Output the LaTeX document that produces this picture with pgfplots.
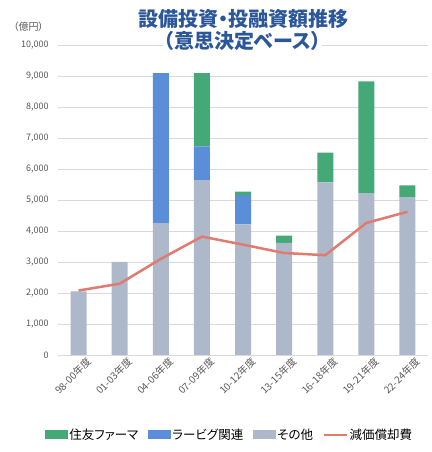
\documentclass[border=0pt]{standalone}
\usepackage{pgfplots}
\pgfplotsset{compat=1.18}
\usepackage{fontspec}
\setmainfont{Noto Sans CJK JP}
\newfontfamily\pfont{Noto Sans CJK JP}[RawFeature=+palt]
\definecolor{cgreen}{HTML}{45A877}
\definecolor{cblue}{HTML}{5B8ED8}
\definecolor{cgray}{HTML}{ADB8CA}
\definecolor{cred}{HTML}{E07B6F}
\definecolor{ctitle}{HTML}{2B579A}
\definecolor{ctext}{HTML}{595959}
\definecolor{cgrid}{HTML}{D9D9D9}
\begin{document}
\begin{tikzpicture}
\useasboundingbox (0pt,0pt) rectangle (431pt,452pt);
\begin{axis}[
  at={(78.6pt,97pt)}, anchor=origin, scale only axis,
  width=370pt, height=310pt,
  ybar stacked, bar width=16pt,
  xmin=-0.5, xmax=8.5, ymin=0, ymax=10000,
  ytick={0,1000,...,10000},
  xtick={0,...,8},
  xticklabels={98-00年度,01-03年度,04-06年度,07-09年度,10-12年度,13-15年度,16-18年度,19-21年度,22-24年度},
  xticklabel style={font=\fontsize{10}{11}\selectfont, color=ctext, rotate=45, anchor=north east, inner sep=1pt, xshift=5pt, yshift=-5pt},
  yticklabel style={font=\fontsize{9}{10}\selectfont, color=ctext, xshift=-6pt},
  /pgf/number format/assume math mode=true,
  /pgf/number format/1000 sep={,},
  scaled y ticks=false,
  ymajorgrids, grid style={color=cgrid, line width=0.8pt},
  axis line style={draw=none},
  major tick length=0pt,
  legend style={at={(-0.035,-0.258)}, anchor=west, draw=none, legend columns=4,
     font=\pfont\fontsize{12.5}{14}\selectfont, inner sep=0pt,
     nodes={inner xsep=1pt},
     /tikz/every even column/.append style={column sep=9pt}},
  legend cell align=left,
]
\addlegendimage{area legend, fill=cgreen, draw=none, legend image code/.code={\fill[cgreen] (0pt,-4.5pt) rectangle (23pt,4.5pt);}}
\addlegendentry{住友ファーマ}
\addlegendimage{area legend, fill=cblue, draw=none, legend image code/.code={\fill[cblue] (0pt,-4.5pt) rectangle (23pt,4.5pt);}}
\addlegendentry{ラービグ関連}
\addlegendimage{area legend, fill=cgray, draw=none, legend image code/.code={\fill[cgray] (0pt,-4.5pt) rectangle (23pt,4.5pt);}}
\addlegendentry{その他}
\addlegendimage{legend image code/.code={\draw[cred, line width=2.5pt] (0pt,0pt) -- (23pt,0pt);}}
\addlegendentry{減価償却費}
\addplot[fill=cgray, draw=none, forget plot] coordinates {(0,2050) (1,3000) (2,4250) (3,5640) (4,4210) (5,3620) (6,5570) (7,5220) (8,5090)};
\addplot[fill=cblue, draw=none, forget plot] coordinates {(0,0) (1,0) (2,4840) (3,1090) (4,950) (5,0) (6,0) (7,0) (8,0)};
\addplot[fill=cgreen, draw=none, forget plot] coordinates {(0,0) (1,0) (2,0) (3,2360) (4,110) (5,230) (6,960) (7,3610) (8,380)};
\end{axis}
\begin{axis}[
  at={(78.6pt,97pt)}, anchor=origin, scale only axis,
  width=370pt, height=310pt,
  xmin=-0.5, xmax=8.5, ymin=0, ymax=10000,
  hide axis,
]
\addplot[cred, line width=2.5pt, mark=none] coordinates {(0,2080) (1,2300) (2,3100) (3,3820) (4,3560) (5,3290) (6,3220) (7,4260) (8,4620)};
\end{axis}
\node[font=\pfont\fontsize{10}{11}\selectfont, color=ctext] at (28.5pt,425pt) {（億円）};
\node[font=\pfont\fontsize{20}{22}\selectfont\bfseries, color=ctitle, inner sep=1pt] at (243.5pt,433pt) {設備投資・投融資額推移};
\node[font=\pfont\fontsize{20}{22}\selectfont\bfseries, color=ctitle, fill=white, inner sep=1pt] at (242.5pt,411pt) {（意思決定ベース）};
\end{tikzpicture}
\end{document}
